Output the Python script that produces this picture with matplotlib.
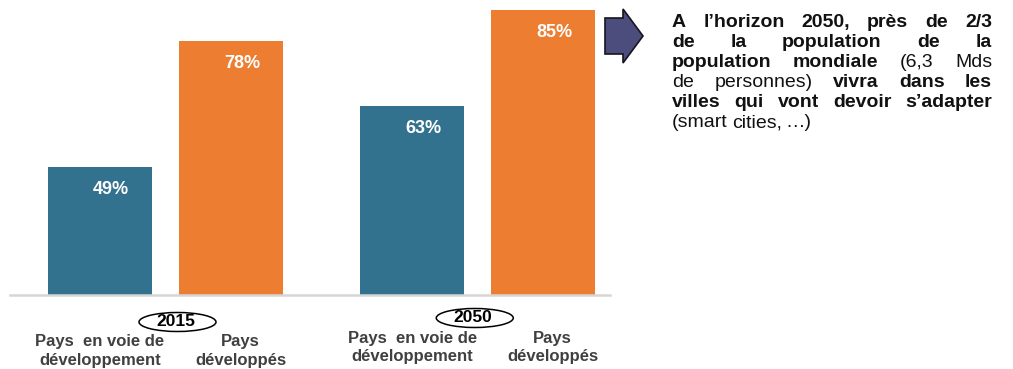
import matplotlib
matplotlib.use('Agg')
import matplotlib.pyplot as plt
import matplotlib.transforms as mtransforms
from matplotlib.patches import Ellipse, Polygon
import numpy as np

# data
years = ['2015', '2050']
categories = ['Pays  en voie de\ndéveloppement', 'Pays\ndéveloppés']
pct_developing = [49, 63]
pct_developed = [78, 85]

# commentary on the right: (words, bold) chunks for each line
note_lines = [
    [('A l’horizon 2050, près de 2/3', True)],
    [('de la population de la', True)],
    [('population mondiale', True), ('(6,3 Mds', False)],
    [('de personnes)', False), ('vivra dans les', True)],
    [('villes qui vont devoir s’adapter', True)],
    [('(smart cities, …)', False)],
]

blue = '#33728f'
orange = '#ed7d31'
W, H = 1013, 369
font = 'Liberation Sans'

fig = plt.figure(figsize=(W / 100, H / 100), dpi=100)
ax = fig.add_axes([10 / W, 1 - 294.7 / H, 600 / W, 294.7 / H])

x = np.arange(len(years))
off = 0.21
bw = 0.333
ax.bar(x - off, pct_developing, bw, color=blue)
ax.bar(x + off, pct_developed, bw, color=orange)
ax.set_ylim(19.6, 87.4)
ax.set_xlim(-0.498, 1.4235)

for xs, vals in [(x - off, pct_developing), (x + off, pct_developed)]:
    for xi, v in zip(xs, vals):
        ax.text(xi + 0.035, v - 5.1, f'{v}%', color='white', fontsize=13,
                fontweight='bold', family=font, ha='center', va='center')

for s in ['top', 'left', 'right']:
    ax.spines[s].set_visible(False)
ax.spines['bottom'].set_color('#d6d6d6')
ax.spines['bottom'].set_linewidth(1.8)
ax.set_xticks([])
ax.set_yticks([])

# labels under the bars
trans = mtransforms.blended_transform_factory(ax.transData, fig.transFigure)
label_y = [1 - 351 / H, 1 - 347.5 / H]
for i in range(len(years)):
    ax.text(x[i] - off, label_y[i], categories[0], transform=trans, ha='center',
            va='center', fontsize=12, fontweight='bold', color='#404040',
            family=font, linespacing=1.3)
    ax.text(x[i] + off + 0.03, label_y[i], categories[1], transform=trans, ha='center',
            va='center', fontsize=12, fontweight='bold', color='#404040',
            family=font, linespacing=1.3)

# years in ellipses
fig.canvas.draw()
year_y = [322, 318]
year_dx = [12, -3]
for i, yr in enumerate(years):
    px = ax.transData.transform((x[i], 0))[0] + year_dx[i]
    cx, cy = px / W, 1 - year_y[i] / H
    fig.patches.append(Ellipse((cx, cy), 77 / W, 19 / H, transform=fig.transFigure,
                               facecolor='white', edgecolor='black', lw=1.1))
    fig.text(cx - 2 / W, cy, yr, ha='center', va='center', fontsize=12.5,
             fontweight='bold', family=font)

# arrow
arrow = [(605, 18), (623, 18), (623, 9), (643, 36), (623, 63), (623, 54), (605, 54)]
fig.patches.append(Polygon([(a / W, 1 - b / H) for a, b in arrow], closed=True,
                           transform=fig.transFigure, facecolor='#4d4d7d',
                           edgecolor='#151520', lw=1.2))

# justified paragraph
renderer = fig.canvas.get_renderer()
left, right = 672, 992
for li, line in enumerate(note_lines):
    words = []
    for chunk, bold in line:
        for w in chunk.split():
            words.append((w, bold))
    base = 1 - (27 + 20 * li) / H
    objs = []
    for w, bold in words:
        t = fig.text(0, base, w, fontsize=14, va='baseline', ha='left',
                     fontweight='bold' if bold else 'normal',
                     family=font, color='#111111')
        objs.append(t)
    widths = [t.get_window_extent(renderer).width for t in objs]
    last = li == len(note_lines) - 1
    if last or len(objs) == 1:
        gap = 4
    else:
        gap = (right - left - sum(widths)) / (len(objs) - 1)
    pos = left
    for t, wd in zip(objs, widths):
        t.set_x(pos / W)
        pos += wd + gap

plt.savefig('out.png', dpi=100)
